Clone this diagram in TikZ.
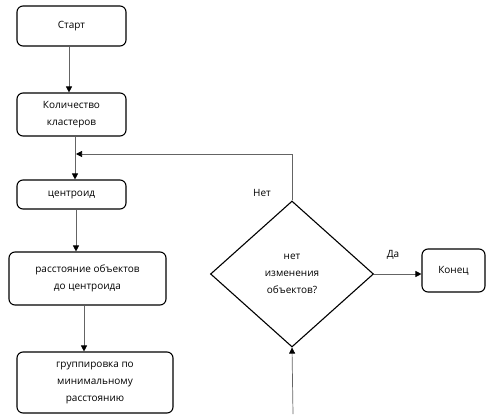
\documentclass[tikz,border=0pt]{standalone}
\usepackage{fontspec}
\setmainfont{Open Sans}
\usetikzlibrary{arrows.meta, positioning, shapes.geometric}
\definecolor{edge}{RGB}{100, 100, 100}

\tikzset{
  block/.style={draw=black, line width=1.1pt, rounded corners=6pt, align=center,
    inner sep=0pt, font=\fontsize{10}{17}\selectfont},
  decision/.style={diamond, draw=black, line width=1.1pt, align=center,
    inner sep=0pt, font=\fontsize{10}{17}\selectfont},
  flow/.style={draw=edge, line width=0.7pt, -{Triangle[length=6pt, width=6pt, color=black]}},
  tag/.style={font=\fontsize{10}{12}\selectfont}
}

\begin{document}
\begin{tikzpicture}[x=1pt, y=1pt]
        \useasboundingbox (0,0) rectangle (486,-414);

        % блоки
        \node[block, minimum width=109pt, minimum height=40pt] (start) at (71.5,-26) {Старт};
        \node[block, minimum width=109pt, minimum height=43pt] (kol) at (71.5,-114.5) {Количество\\кластеров};
        \node[block, minimum width=109pt, minimum height=29pt] (centroid) at (71.5,-194.5) {центроид};
        \node[block, minimum width=157pt, minimum height=53pt] (rasst) at (87.5,-278.5) {расстояние объектов\\до центроида};
        \node[block, minimum width=156pt, minimum height=61pt] (grupp) at (95,-382.5) {группировка по\\минимальному\\расстоянию};
        \node[decision, minimum width=163pt, minimum height=146pt] (cond) at (292,-274) {нет\\изменения\\объектов?};
        \node[block, minimum width=63pt, minimum height=43pt] (konec) at (453.5,-270.5) {Конец};

        % подписи
        \node[tag] (net) at (262,-193) {Нет};
        \node[tag] (da) at (393,-255) {Да};

        % точки
        \coordinate (merge) at (76,-154);
        \coordinate (entry) at (293,-414);

        % стрелки
        \draw[flow] ([xshift=-2.5pt]start.south) -- ([xshift=-2.5pt]start.south |- kol.north);
        \draw[flow] ([xshift=3.5pt]kol.south) -- ([xshift=3.5pt]kol.south |- centroid.north);
        \draw[flow] ([xshift=4.5pt]centroid.south) -- ([xshift=4.5pt]centroid.south |- rasst.north);
        \draw[flow] ([xshift=-3.5pt]rasst.south) -- ([xshift=-3.5pt]rasst.south |- grupp.north);
        \draw[flow] (cond.north) |- (merge);
        \draw[flow] (cond.east) -- (cond.east -| konec.west);
        \draw[flow] (entry) -- (cond.south);

    \end{tikzpicture}
\end{document}
